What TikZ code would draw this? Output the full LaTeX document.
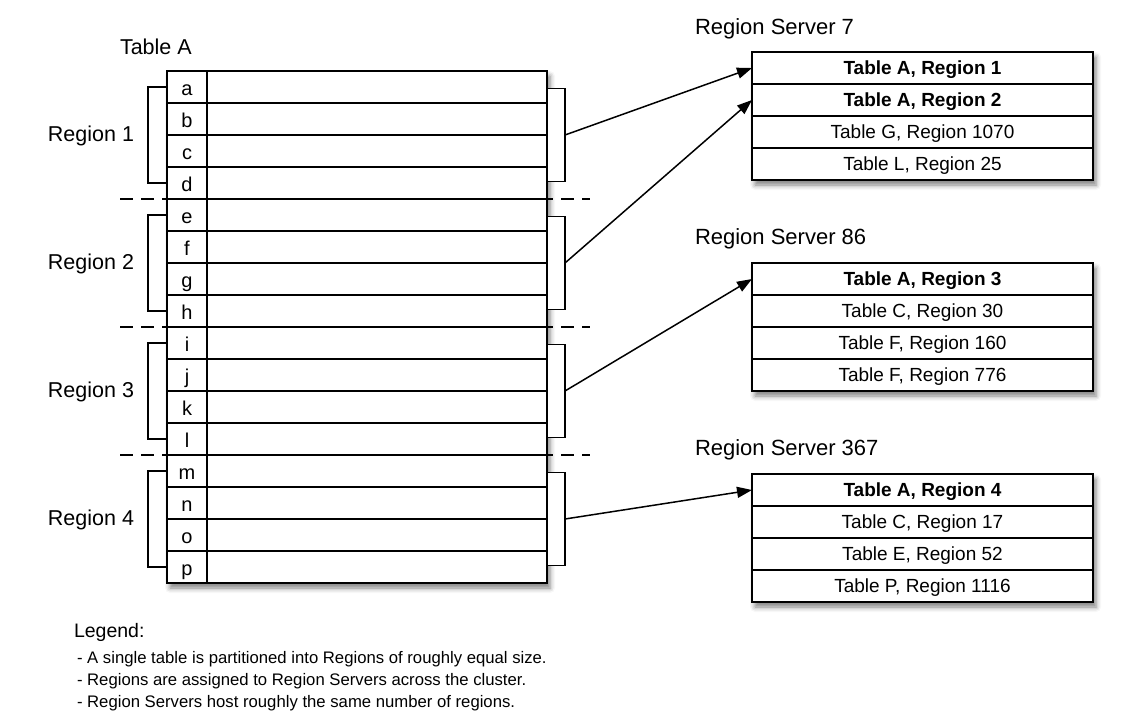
\documentclass[tikz,border=0pt]{standalone}
\usepackage{fontspec}
\setmainfont{Liberation Sans}
\usetikzlibrary{positioning,calc,arrows.meta,shadows.blur}

\begin{document}
\begin{tikzpicture}[x=1pt,y=-1pt]
    \tikzstyle{every node}=[inner sep=0pt, outer sep=0pt]
    \tikzstyle{cell}=[draw, line width=1.5pt, fill=white, minimum height=32pt]
    \tikzstyle{keycell}=[cell, minimum width=40pt, text height=16pt, text depth=0pt, font=\fontsize{20}{20}\selectfont]
    \tikzstyle{valcell}=[cell, minimum width=340pt]
    \tikzstyle{srvrow}=[cell, minimum width=341pt, text height=13pt, text depth=0pt, font=\fontsize{19}{19}\selectfont]
    \tikzstyle{hot}=[font=\fontsize{19}{19}\selectfont\bfseries]
    \tikzstyle{heading}=[font=\fontsize{21.5}{22}\selectfont]
    \tikzstyle{srvname}=[font=\fontsize{22}{22}\selectfont, anchor=west]
    \tikzstyle{regsplit}=[dash pattern=on 13pt off 8pt, line width=1.4pt]
    \tikzstyle{bracket}=[line width=1.5pt]
    \tikzstyle{link}=[line width=1.5pt, -{Triangle[length=15pt,width=11pt]}]
    \tikzstyle{boxshadow}=[fill=white, blur shadow={shadow xshift=3pt, shadow yshift=-5pt, shadow blur radius=5pt, shadow opacity=50}]

    \useasboundingbox (0,0) rectangle (1124,721);

    % region borders
    \foreach \y in {199,327,455}
        \draw[regsplit] (120,\y) -- (590,\y);

    % table A
    \node[heading, anchor=west] (tabname) at (120,47) {Table A};
    \node[boxshadow, minimum width=380pt, minimum height=512pt] (taba) at (357,327) {};
    \foreach \l [count=\i] in {a,...,p} {
        \node[keycell] (k\i) at (187,{55+32*\i}) {\l};
        \node[valcell, right=0pt of k\i] (v\i) {};
    }

    % regions
    \foreach \r [evaluate=\r as \t using int(4*\r-3), evaluate=\r as \b using int(4*\r)] in {1,...,4} {
        \draw[bracket] (k\t.west) -- ++(-19,0) |- (k\b.west);
        \node[draw, bracket, fill=white, minimum width=18pt, minimum height=93pt, anchor=west]
            (rb\r) at ($(v\t.east)!0.5!(v\b.east)$) {};
        \node[heading, anchor=east] (reg\r) at ($(k\t.west)!0.5!(k\b.west)+(-33,1)$) {Region \r};
    }

    % region servers
    \node[srvname] (rs7) at (695,29) {Region Server 7};
    \node[boxshadow, minimum width=341pt, minimum height=128pt] (box7) at (922.5,116) {};
    \node[srvrow, hot, anchor=north] (s7r1) at (box7.north) {Table A, Region 1};
    \node[srvrow, hot, below=0pt of s7r1] (s7r2) {Table A, Region 2};
    \node[srvrow, below=0pt of s7r2] (s7r3) {Table G, Region 1070};
    \node[srvrow, below=0pt of s7r3] (s7r4) {Table L, Region 25};

    \node[srvname] (rs86) at (695,239) {Region Server 86};
    \node[boxshadow, minimum width=341pt, minimum height=128pt] (box86) at (922.5,327) {};
    \node[srvrow, hot, anchor=north] (s86r1) at (box86.north) {Table A, Region 3};
    \node[srvrow, below=0pt of s86r1] (s86r2) {Table C, Region 30};
    \node[srvrow, below=0pt of s86r2] (s86r3) {Table F, Region 160};
    \node[srvrow, below=0pt of s86r3] (s86r4) {Table F, Region 776};

    \node[srvname] (rs367) at (695,450) {Region Server 367};
    \node[boxshadow, minimum width=341pt, minimum height=128pt] (box367) at (922.5,538) {};
    \node[srvrow, hot, anchor=north] (s367r1) at (box367.north) {Table A, Region 4};
    \node[srvrow, below=0pt of s367r1] (s367r2) {Table C, Region 17};
    \node[srvrow, below=0pt of s367r2] (s367r3) {Table E, Region 52};
    \node[srvrow, below=0pt of s367r3] (s367r4) {Table P, Region 1116};

    % assignments
    \draw[link] (rb1.east) -- (s7r1.west);
    \draw[link] (rb2.east) -- (s7r2.west);
    \draw[link] (rb3.east) -- (s86r1.west);
    \draw[link] (rb4.east) -- (s367r1.west);

    % legend
    \node[anchor=west, font=\fontsize{19.5}{20}\selectfont] (legend) at (74,632) {Legend:};
    \node[anchor=north west, align=left, font=\fontsize{16.7}{22}\selectfont] (legtext) at (77,651)
        {- A single table is partitioned into Regions of roughly equal size.\\
         - Regions are assigned to Region Servers across the cluster.\\
         - Region Servers host roughly the same number of regions.};
\end{tikzpicture}
\end{document}
